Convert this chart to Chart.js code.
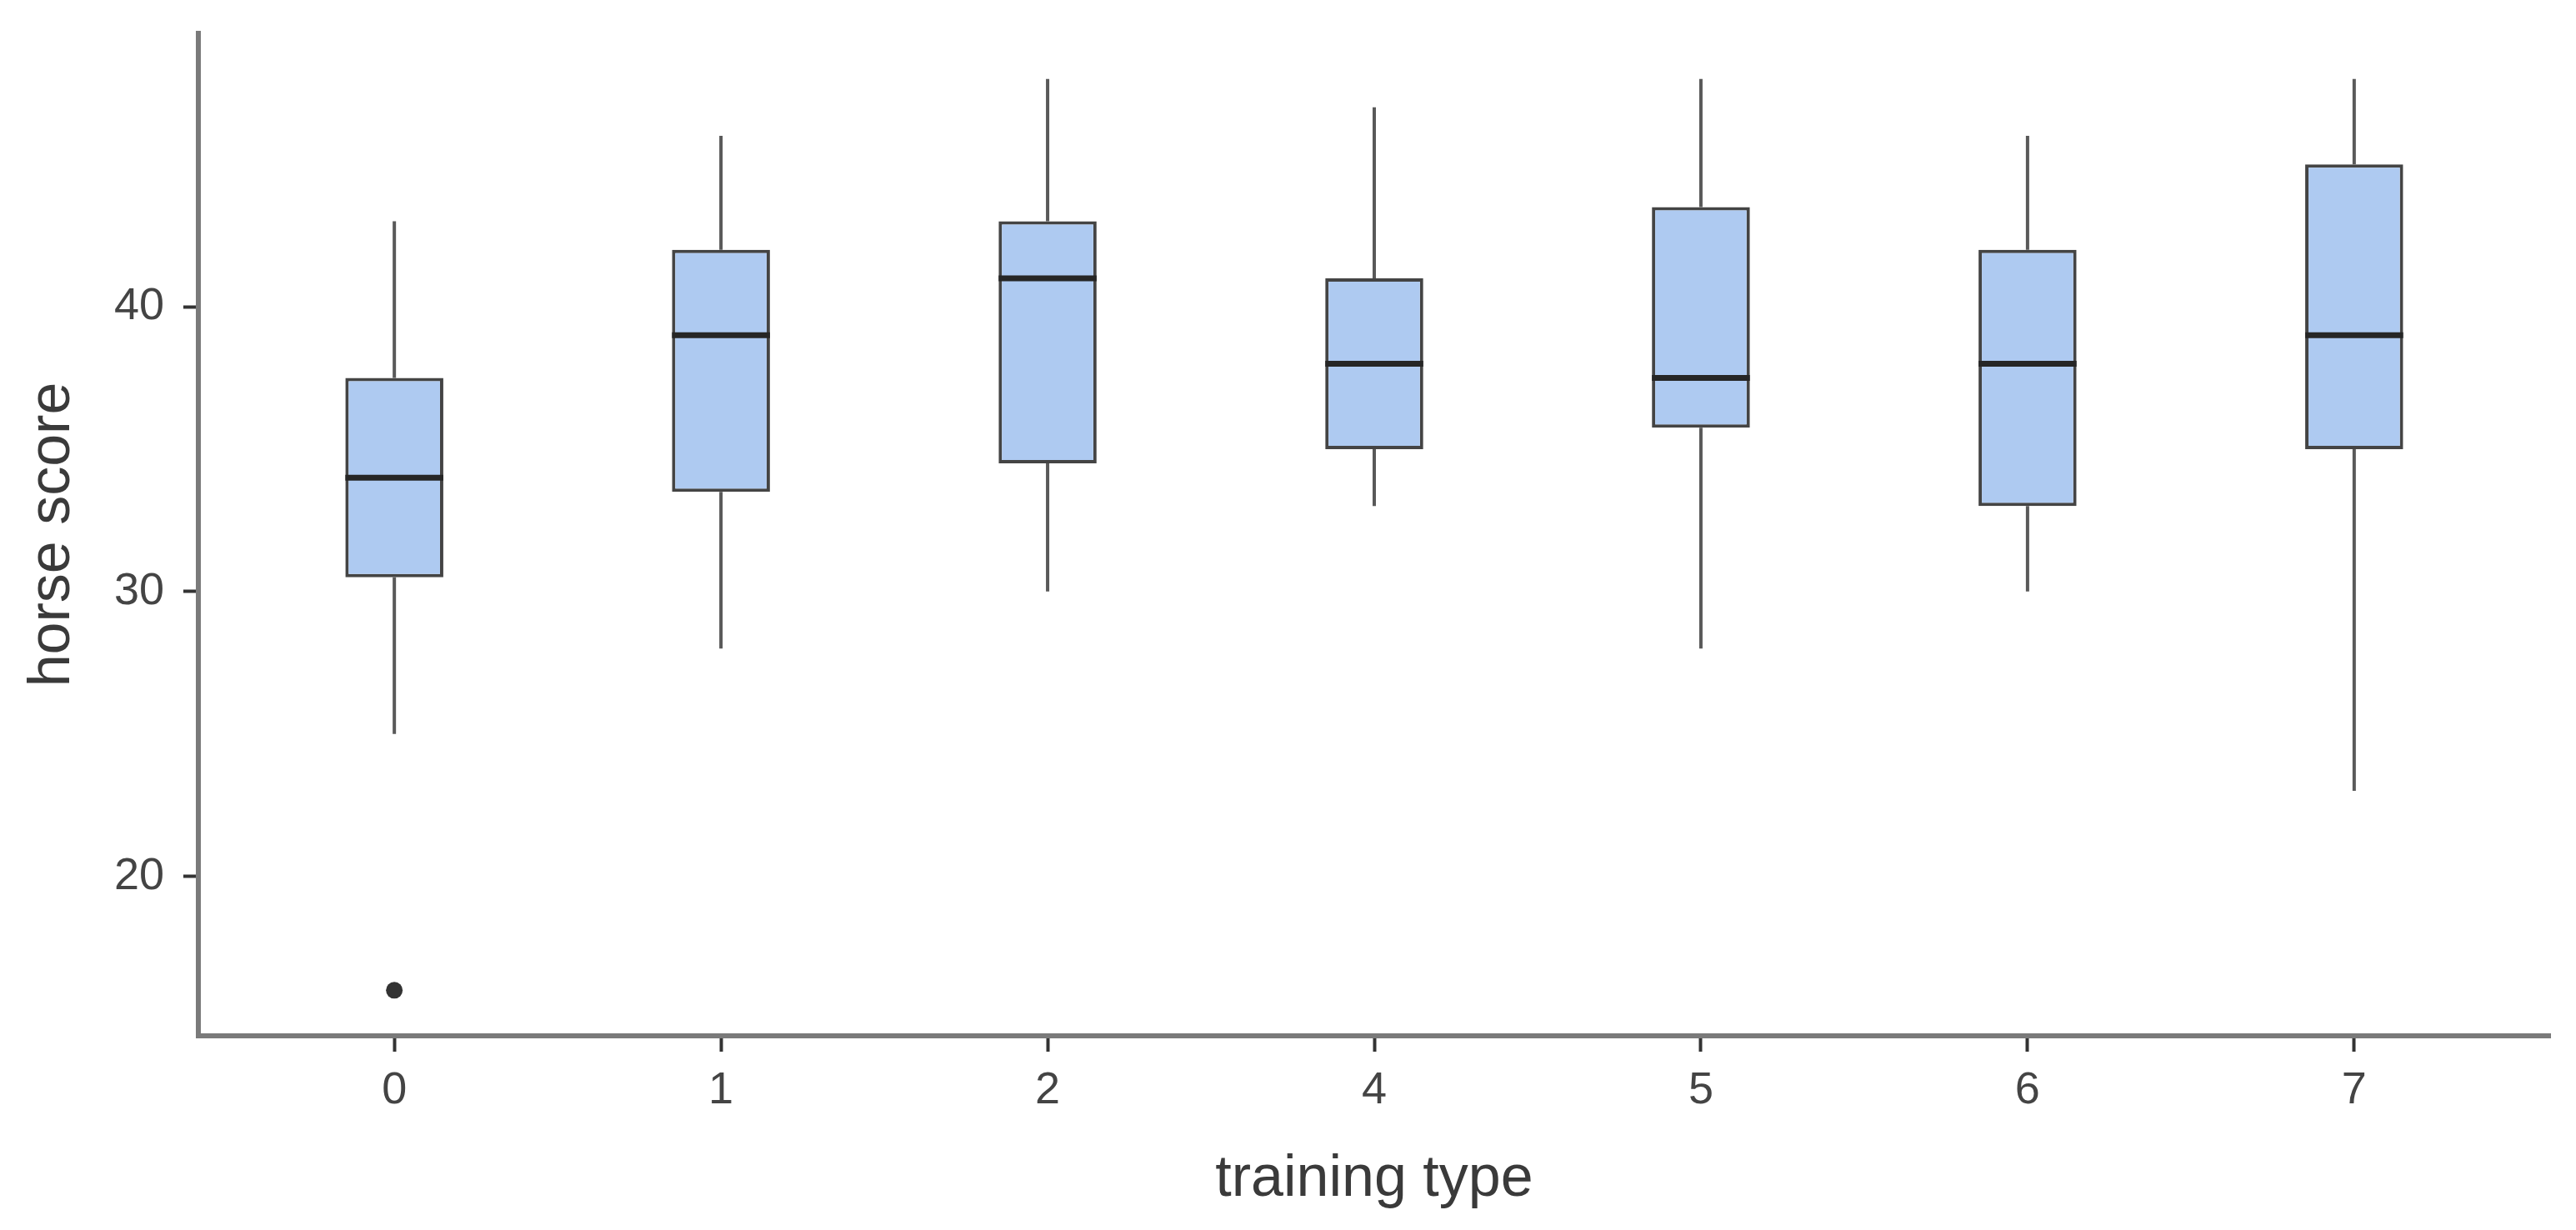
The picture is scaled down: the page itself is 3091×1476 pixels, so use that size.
<!DOCTYPE html>
<html>
<head>
<meta charset="utf-8">
<script src="https://cdn.jsdelivr.net/npm/chart.js@4.4.1/dist/chart.umd.min.js"></script>
<style>
  html, body { margin: 0; padding: 0; background: #ffffff; }
  #wrap { width: 3091px; height: 1476px; }
</style>
</head>
<body>
<div id="wrap"><canvas id="c" width="3091" height="1476"></canvas></div>
<script>
// ---- data ----
const categories = ['0', '1', '2', '4', '5', '6', '7'];
const whiskerLow  = [25,   28,   30,   33, 28,    30, 23];
const q1          = [30.5, 33.5, 34.5, 35, 35.75, 33, 35];
const median      = [34,   39,   41,   38, 37.5,  38, 39];
const q3          = [37.5, 42,   43,   41, 43.5,  42, 45];
const whiskerHigh = [43,   46,   48,   47, 48,    46, 48];
const outlierCategory = ['0'];
const outlierValue    = [16];
const yTicks = [20, 30, 40];

// ---- style ----
const BOX_W = 0.3;
const FONT = 'Liberation Sans, Arial, sans-serif';

const idx = c => categories.indexOf(c);

const boxData = categories.map((c, i) => ({ x: i, y: [q1[i], q3[i]] }));
const whiskerData = [];
categories.forEach((c, i) => {
  whiskerData.push({ x: i, y: whiskerLow[i] }, { x: i, y: q1[i] }, { x: i, y: null });
  whiskerData.push({ x: i, y: q3[i] }, { x: i, y: whiskerHigh[i] }, { x: i, y: null });
});
const medianData = [];
categories.forEach((c, i) => {
  medianData.push({ x: i - BOX_W / 2, y: median[i] }, { x: i + BOX_W / 2, y: median[i] }, { x: i, y: null });
});
const outlierData = outlierCategory.map((c, k) => ({ x: idx(c), y: outlierValue[k] }));

new Chart(document.getElementById('c'), {
  type: 'bar',
  data: {
    datasets: [
      {
        type: 'line', label: 'whiskers', data: whiskerData, order: 3,
        borderColor: '#595959', borderWidth: 4, pointRadius: 0, spanGaps: false,
        borderCapStyle: 'butt', fill: false
      },
      {
        type: 'bar', label: 'box', data: boxData, order: 2,
        backgroundColor: '#aecaf1', borderColor: '#444444', borderWidth: 4,
        borderSkipped: false, barPercentage: BOX_W, categoryPercentage: 1
      },
      {
        type: 'line', label: 'median', data: medianData, order: 1,
        borderColor: '#262626', borderWidth: 7, pointRadius: 0, spanGaps: false,
        borderCapStyle: 'butt', fill: false
      },
      {
        type: 'line', label: 'outliers', data: outlierData, order: 0,
        showLine: false, pointRadius: 10, pointBackgroundColor: '#333333',
        pointBorderWidth: 0, pointBorderColor: '#333333'
      }
    ]
  },
  options: {
    responsive: false,
    devicePixelRatio: 1,
    animation: false,
    events: [],
    layout: { padding: { top: 40, right: 31, left: 0, bottom: 0 } },
    plugins: { legend: { display: false }, tooltip: { enabled: false } },
    scales: {
      x: {
        type: 'linear',
        offset: false,
        min: -0.6, max: 6.6,
        afterFit: s => { s.height = 233; s.paddingLeft = 0; s.paddingRight = 0; },
        afterBuildTicks: s => { s.ticks = categories.map((c, i) => ({ value: i })); },
        border: { display: true, color: '#7a7a7a', width: 6 },
        grid: { display: true, offset: false, drawOnChartArea: false, drawTicks: true, tickLength: 19, tickColor: '#333333', tickWidth: 4 },
        ticks: {
          callback: v => categories[Math.round(v)],
          color: '#444444', font: { family: FONT, size: 54 }, padding: 15,
          maxRotation: 0, autoSkip: false
        },
        title: {
          display: true, text: 'training type', color: '#3a3a3a',
          font: { family: FONT, size: 70 }, padding: { top: 0, bottom: 18 }
        }
      },
      y: {
        type: 'linear',
        min: 14.4, max: 49.6,
        afterFit: s => { s.width = 238; s.paddingTop = 0; s.paddingBottom = 0; },
        afterBuildTicks: s => { s.ticks = yTicks.map(v => ({ value: v })); },
        border: { display: true, color: '#7a7a7a', width: 6 },
        grid: { display: true, drawOnChartArea: false, drawTicks: true, tickLength: 18, tickColor: '#333333', tickWidth: 4 },
        ticks: {
          color: '#444444', font: { family: FONT, size: 54 }, padding: 23
        },
        title: {
          display: true, text: 'horse score', color: '#3a3a3a',
          font: { family: FONT, size: 70 }, padding: { top: 22, bottom: 0 }
        }
      }
    }
  }
});
</script>
</body>
</html>
